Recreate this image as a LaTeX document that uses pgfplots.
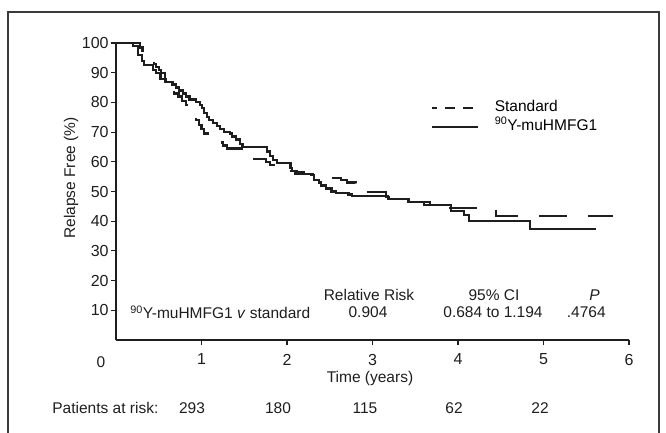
\documentclass[border=0pt]{standalone}
\usepackage{fontspec}
\setmainfont{Liberation Sans}
\usepackage{pgfplots}
\pgfplotsset{compat=1.18}
\definecolor{ink}{HTML}{1E1E1E}
\definecolor{frame}{HTML}{3A3A3A}

\pgfplotstableread{
x y
0 100
0.20 99
0.26 96
0.30 94
0.33 92.5
0.43 91
0.47 90
0.52 88
0.58 87
0.66 86
0.70 85
0.74 84
0.78 83
0.82 82
0.86 81
0.94 80
0.98 79
1.01 78
1.03 76.5
1.06 75
1.09 74
1.13 73
1.18 72
1.22 71
1.26 70
1.33 69.5
1.36 68.5
1.40 67.5
1.45 66
1.48 65
1.77 63.5
1.80 62
1.84 60.5
1.88 59.5
2.04 58
2.06 57
2.12 56.5
2.20 56
2.28 55.5
2.32 54
2.37 53
2.40 52
2.46 51
2.52 50
2.57 49.5
2.72 49
2.76 48.4
3.18 47.5
3.42 46.5
3.67 45.5
3.92 43.5
4.07 42
4.13 40
4.84 37.5
5.61 37.5
}\treated

\pgfplotstableread{
x y
0 100
0.28 98.5
0.31 96
0.36 95
0.41 94
0.44 93
0.47 92
0.50 91
0.53 90
0.57 88
0.61 86
0.64 84
0.68 83
0.73 82
0.77 80.5
0.82 79
0.86 77.5
0.90 75.5
0.94 74
0.97 72.5
1.00 71
1.03 69.5
1.07 68.5
1.13 67.5
1.19 66.5
1.25 65.5
1.30 64.5
1.50 63
1.56 61
1.75 60
1.80 59
1.95 58
2.02 57
2.10 56
2.30 55.5
2.45 55
2.52 54.6
2.63 53.8
2.70 53
2.80 51.5
2.87 50.5
2.92 49.7
3.16 48.2
3.25 47.5
3.42 46.5
3.60 45.5
3.87 44.4
4.30 43.4
4.44 41.7
5.81 41.7
}\standard

\begin{document}
\fontsize{15.5pt}{18pt}\selectfont
\begin{tikzpicture}[x=1pt,y=1pt]
\useasboundingbox (0,0) rectangle (666,433);
\draw[line width=1.8pt, color=frame] (8,-3) -- (8,421) -- (659,421) -- (659,-3);
\begin{axis}[
  at={(116pt,93pt)}, anchor=south west,
  scale only axis, width=513pt, height=297pt,
  xmin=0, xmax=6, ymin=0, ymax=100,
  axis lines*=left,
  axis line style={line width=1.1pt, ink},
  xtick={1,2,3,4,5,6}, ytick={10,20,30,40,50,60,70,80,90,100},
  tick align=outside, major tick length=5.5pt,
  tick style={line width=1.1pt, ink},
  ticklabel style={font=\fontsize{16pt}{18pt}\selectfont, text=ink},
  yticklabel style={xshift=3.5pt},
  xticklabel style={yshift=-3pt},
  /pgf/number format/assume math mode=true,
  clip=false,
  legend style={draw=none, fill=none, at={(axis cs:3.677,79.8)}, anchor=north west,
    inner sep=0pt, row sep=5pt, font=\fontsize{15.5pt}{18pt}\selectfont,
    nodes={inner sep=0pt, text height=11pt, text depth=3pt},
    /tikz/every odd column/.append style={column sep=16pt},
    cells={anchor=west}},
  legend image code/.code={\draw[#1] (0pt,2pt) -- (46pt,2pt);},
]
\addplot[const plot, line width=2.2pt, ink, dash pattern=on 28pt off 21pt, dash phase=41pt,
  legend image code/.code={\draw[line width=2.2pt, ink, dash pattern=on 10pt off 8pt] (0pt,2pt) -- (46pt,2pt);}]
  table[x=x,y=y] {\standard};
\addlegendentry{\raisebox{3pt}{Standard}}
\addplot[const plot, line width=2.2pt, ink] table[x=x,y=y] {\treated};
\addlegendentry{\raisebox{3pt}{\textsuperscript{90}Y-muHMFG1}}
\end{axis}
% labels
\node[text=ink] at (101,71) {0};
\node[text=ink] at (370,55) {Time (years)};
\node[text=ink, rotate=90] at (71,255) {Relapse Free (\%)};
\node[text=ink, anchor=west] at (47,25) {Patients at risk:};
\node[text=ink] at (192,25) {293};
\node[text=ink] at (278,25) {180};
\node[text=ink] at (365,25) {115};
\node[text=ink] at (454,25) {62};
\node[text=ink] at (540,25) {22};
% statistics
\node[text=ink, anchor=west] at (125,121) {\textsuperscript{90}Y-muHMFG1 \textit{v} standard};
\node[text=ink] at (369,138) {Relative Risk};
\node[text=ink] at (368,121) {0.904};
\node[text=ink] at (494,138) {95\% CI};
\node[text=ink] at (493,121) {0.684 to 1.194};
\node[text=ink, anchor=east] at (605,138) {\textit{P}};
\node[text=ink, anchor=east] at (611,121) {.4764};
\end{tikzpicture}
\end{document}
